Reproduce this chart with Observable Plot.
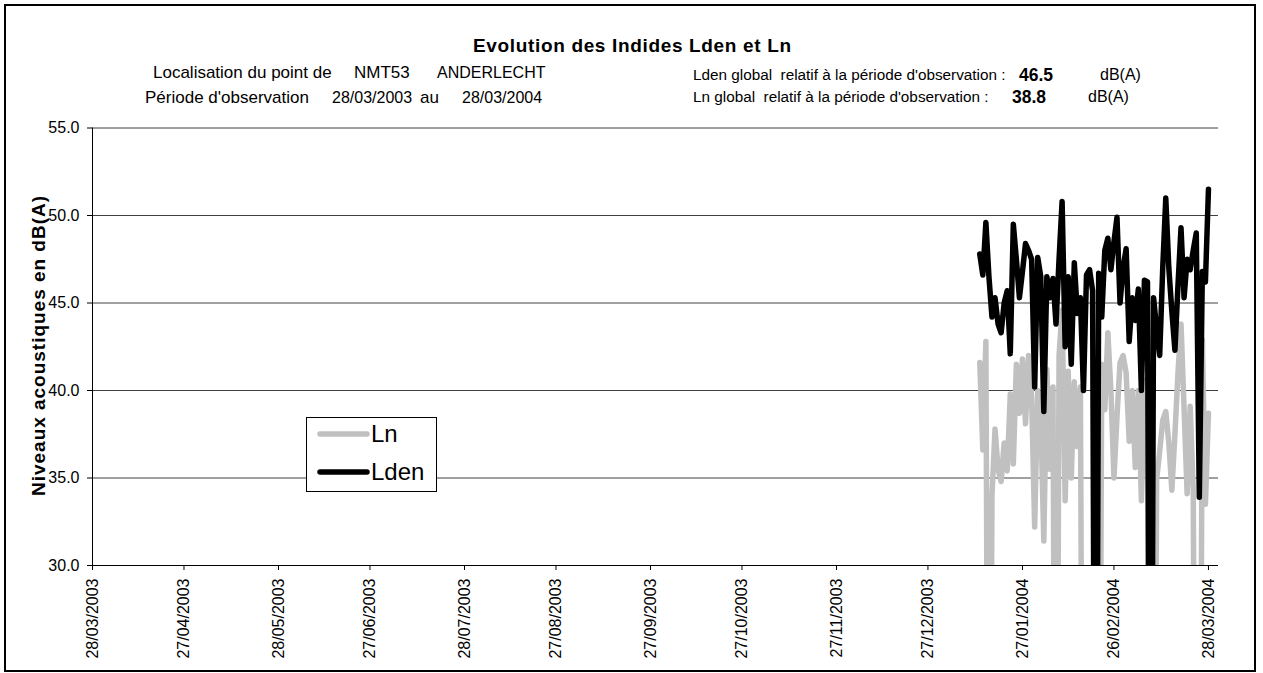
<!DOCTYPE html>
<html><head><meta charset="utf-8">
<script src="https://cdn.jsdelivr.net/npm/d3@7"></script>
<script src="https://cdn.jsdelivr.net/npm/@observablehq/plot@0.6"></script>
<style>
body{margin:0;background:#fff;font-family:"Liberation Sans",Arial,sans-serif;}
#wrap{position:relative;width:1263px;height:673px;overflow:hidden;}
#chart{position:absolute;left:0;top:0;}
#frame{position:absolute;left:4px;top:4px;width:1252px;height:668px;border:2px solid #000;box-sizing:border-box;pointer-events:none;}
#overlay{position:absolute;left:0;top:0;pointer-events:none;}
#overlay text, #legend text{white-space:pre;}
#legend{position:absolute;left:306px;top:417px;width:131px;height:75px;border:1px solid #000;background:#fff;box-sizing:border-box;}
</style></head><body>
<div id="wrap">
  <div id="chart"></div>
  <div id="frame"></div>
  <svg id="overlay" width="1263" height="673"></svg>
  <div id="legend"></div>
</div>
<script>
// ---- data ----
const title = "Evolution des Indides Lden et Ln";
const infoLeftLine1 = ["Localisation du point de", "NMT53", "ANDERLECHT"];
const infoLeftLine2 = ["Période d'observation", "28/03/2003", "au", "28/03/2004"];
const infoRightLabels = ["Lden global  relatif à la période d'observation :", "Ln global  relatif à la période d'observation :"];
const infoRightValues = ["46.5", "38.8"];
const infoUnit = "dB(A)";
const yLabel = "Niveaux acoustiques en dB(A)";
const seriesNames = ["Ln", "Lden"];
const seriesColors = ["#c0c0c0", "#000000"];
const yTicks = [30, 35, 40, 45, 50, 55];
const xTickLabels = ["28/03/2003","27/04/2003","28/05/2003","27/06/2003","28/07/2003","27/08/2003","27/09/2003","27/10/2003","27/11/2003","27/12/2003","27/01/2004","26/02/2004","28/03/2004"];
const firstDay = "13/01/2004"; // daily values from this date on
const lden = [47.8,46.6,49.6,46.5,44.2,45.3,43.8,43.3,45.0,45.7,42.1,49.5,47.5,45.3,46.8,48.4,48.0,47.5,40.2,47.6,46.5,38.8,46.5,45.3,46.4,43.8,47.5,50.8,42.5,46.5,41.5,47.3,44.4,45.3,40.0,46.6,46.9,45.7,0,46.7,44.2,48.0,48.7,46.9,48.5,49.9,45.0,47.0,48.1,42.8,45.3,44.0,45.8,40.0,46.3,46.2,0,45.3,43.5,42.0,47.0,51.0,47.0,44.5,42.3,46.0,49.3,45.3,47.5,46.9,48.0,49.0,33.9,46.8,46.2,51.5];
const ln = [41.6,36.6,42.8,0,34.0,37.8,35.5,34.8,37.0,35.4,39.8,35.8,41.5,38.7,41.8,38.1,42.0,39.6,32.2,40.0,38.5,31.4,41.2,35.5,40.2,0,42.0,44.6,33.7,41.1,35.0,40.5,36.8,40.2,0,0,0,0,0,0,41.5,38.9,43.3,40.0,35.0,38.5,41.6,42.0,41.0,37.1,40.0,35.6,40.0,33.7,40.6,37.0,0,0,34.9,36.5,38.3,38.8,37.0,34.3,37.5,41.0,43.8,39.0,34.1,39.1,34.3,0,0,42.9,33.5,38.7];

// ---- build ----
const parse = d3.utcParse("%d/%m/%Y");
const start = parse(firstDay);
const rows = lden.map((v, i) => ({date: d3.utcDay.offset(start, i), lden: v, ln: ln[i]}));
const tickDates = xTickLabels.map(parse);
const labelByTime = new Map(tickDates.map((d, i) => [+d, xTickLabels[i]]));
const xEnd = d3.utcHour.offset(tickDates[tickDates.length - 1], 79);
const font = "Liberation Sans, Arial, sans-serif";

const plot = Plot.plot({
  width: 1263, height: 673,
  marginLeft: 92, marginRight: 45, marginTop: 127.5, marginBottom: 108,
  style: {fontFamily: font, fontSize: "16px", background: "transparent", color: "#000", overflow: "visible"},
  x: {type: "utc", domain: [tickDates[0], xEnd]},
  y: {domain: [30, 55]},
  marks: [
    Plot.gridY(yTicks, {stroke: "#000", strokeOpacity: 0.75, strokeWidth: 1}),
    Plot.line(rows, {x: "date", y: "ln", stroke: seriesColors[0], strokeWidth: 5.5, strokeLinejoin: "round", strokeLinecap: "round", clip: true}),
    Plot.line(rows, {x: "date", y: "lden", stroke: seriesColors[1], strokeWidth: 5.5, strokeLinejoin: "round", strokeLinecap: "round", clip: true}),
    Plot.ruleX([tickDates[0]], {stroke: "#000"}),
    Plot.ruleY([30], {stroke: "#000"}),
    Plot.axisY(yTicks, {tickFormat: d => d.toFixed(1), tickSize: 5, tickPadding: 8, fontSize: 16, label: null, stroke: "#000"}),
    Plot.axisX(tickDates, {tickRotate: -90, tickFormat: d => labelByTime.get(+d), tickSize: 5, tickPadding: 8, fontSize: 16, label: null, stroke: "#000"})
  ]
});
document.getElementById("chart").appendChild(plot);

// ---- texts (overlay svg) ----
const ns = "http://www.w3.org/2000/svg";
const O = document.getElementById("overlay");
function addText(parent, str, x, y, size, opts = {}) {
  const t = document.createElementNS(ns, "text");
  t.setAttribute("x", x); t.setAttribute("y", y);
  t.setAttribute("font-size", size);
  t.setAttribute("font-family", font);
  if (opts.bold) t.setAttribute("font-weight", "bold");
  if (opts.anchor) t.setAttribute("text-anchor", opts.anchor);
  if (opts.len) { t.setAttribute("textLength", opts.len); t.setAttribute("lengthAdjust", "spacing"); }
  if (opts.rotate) t.setAttribute("transform", `rotate(${opts.rotate} ${x} ${y})`);
  if (opts.dy) t.setAttribute("dy", opts.dy);
  t.textContent = str;
  parent.appendChild(t);
  return t;
}
addText(O, title, 632, 52, 19, {bold: true, anchor: "middle", len: 318});
const line1Pos = [[153, 17], [354, 17], [437, 16]];
const line2Pos = [[145, 17], [332, 16], [420, 17], [462, 16]];
line1Pos.forEach(([x, s], i) => addText(O, infoLeftLine1[i], x, 78, s));
line2Pos.forEach(([x, s], i) => addText(O, infoLeftLine2[i], x, 103, s));
addText(O, infoRightLabels[0], 693, 80, 15.3);
addText(O, infoRightValues[0], 1019, 81, 17.5, {bold: true});
addText(O, infoUnit, 1100, 80, 16);
addText(O, infoRightLabels[1], 693, 102, 15.3);
addText(O, infoRightValues[1], 1012, 103, 17.5, {bold: true});
addText(O, infoUnit, 1088, 102, 16);
addText(O, yLabel, 45, 346, 19, {bold: true, anchor: "middle", rotate: -90, len: 300});

// ---- legend ----
const L = document.getElementById("legend");
const svg = document.createElementNS(ns, "svg");
svg.setAttribute("width", 129); svg.setAttribute("height", 73);
seriesNames.forEach((name, i) => {
  const y = 16 + i * 38;
  const l = document.createElementNS(ns, "line");
  l.setAttribute("x1", 13); l.setAttribute("x2", 60);
  l.setAttribute("y1", y); l.setAttribute("y2", y);
  l.setAttribute("stroke", seriesColors[i]); l.setAttribute("stroke-width", 5.5);
  l.setAttribute("stroke-linecap", "round");
  svg.appendChild(l);
  addText(svg, name, 64, y, 24, {dy: "0.35em"});
});
L.appendChild(svg);
</script>
</body></html>
